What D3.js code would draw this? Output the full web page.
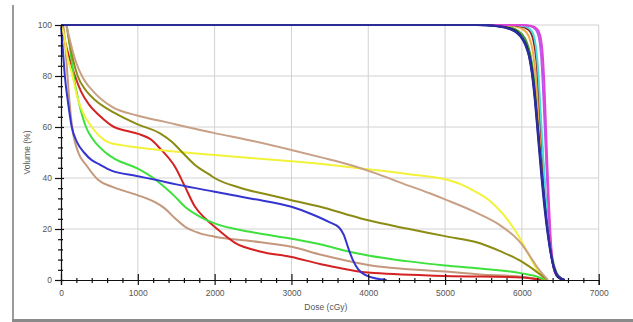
<!DOCTYPE html>
<html>
<head>
<meta charset="utf-8">
<script src="https://cdn.jsdelivr.net/npm/d3@7"></script>
<style>
  body { margin: 0; background: #fff; }
  svg { display: block; font-family: "Liberation Sans", Arial, sans-serif; }
</style>
</head>
<body>
<svg id="dvh" width="633" height="322"></svg>
<script>
// Axis ticks
const xTickValues = [0, 1000, 2000, 3000, 4000, 5000, 6000, 7000];
const yTickValues = [0, 20, 40, 60, 80, 100];
const xMinorStep = 200;
const yMinorStep = 4;

// Organ-at-risk curves: [dose (cGy), volume (%)]
const oarTanUpper = [[0,100],[60,100],[100,96],[150,90],[200,85],[290,79],[443,73.2],[660,68],[994,64.5],[1354,62],[2000,57.6],[2500,54.5],[3000,51],[3400,48],[3800,44.8],[4100,41.8],[4400,38.4],[4800,34],[5000,31.6],[5400,26.5],[5700,21.8],[5900,17.2],[6000,14],[6100,9.6],[6200,5],[6340,0]];
const oarOlive = [[0,100],[60,100],[110,93],[160,86],[217,80],[320,74.5],[443,70.6],[703,65.4],[1000,61],[1289,57.5],[1450,54],[1549,51],[1745,45.1],[1940,41.2],[2000,40],[2330,36.2],[2700,33.4],[3000,31.3],[3400,28.5],[3700,25.9],[4000,23.4],[4500,20.2],[5000,17.2],[5455,14.4],[5716,11.3],[6000,7.2],[6193,3.2],[6330,0]];
const oarRed = [[0,100],[40,95],[100,88],[182,80],[260,74],[360,69],[500,64.5],[690,60],[850,58.5],[1006,57.3],[1180,54.9],[1289,51.6],[1484,44.4],[1614,36.6],[1745,28.7],[1875,24.2],[2000,20.9],[2265,14.6],[2590,11.2],[3000,9],[3372,6.3],[4000,2.9],[5000,1.6],[6000,1],[6250,0]];
const oarYellow = [[0,100],[40,96],[80,88],[150,80],[210,72],[280,66],[400,60],[500,56.5],[620,54],[800,52.8],[1000,52],[1289,51],[2000,49],[3000,46.6],[3300,45.8],[4000,43.4],[4500,41.6],[5000,39.5],[5200,37.6],[5400,34.6],[5600,30.6],[5750,26],[5900,20],[6000,15],[6100,9.2],[6200,4],[6320,0]];
const oarGreen = [[0,100],[70,100],[100,95],[130,88],[165,80],[230,70],[325,60],[420,55],[560,50.5],[700,47.5],[994,43.8],[1224,39.5],[1289,37.9],[1484,32.7],[1614,28.7],[1810,24.8],[2000,22.2],[2460,18.9],[3000,16.2],[3400,13.8],[3700,11.5],[4000,9.6],[4500,7.4],[5000,5.7],[5455,4.5],[6000,2.6],[6200,1.3],[6310,0]];
const oarBlue = [[0,100],[20,92],[50,80],[90,70],[140,60],[210,54],[300,50],[400,47],[490,45.5],[650,43],[985,40.8],[1246,39.2],[1500,37.5],[2000,34.6],[2500,31.8],[3000,28.7],[3250,26],[3500,22.6],[3620,20.6],[3680,17.8],[3740,12.5],[3800,7.8],[3870,4.2],[3960,2],[4100,0.6],[4240,0]];
const oarTanLower = [[0,100],[30,100],[55,92],[80,82],[110,70],[145,60],[225,50],[330,45],[486,39.2],[660,36.6],[994,33.3],[1224,30.5],[1354,28],[1484,24.2],[1614,20.9],[1810,18.3],[2000,17],[2500,15.2],[3000,13],[3400,9.8],[4000,5.9],[5000,3.3],[5455,2.2],[6000,1.3],[6300,0]];

// Target volume curves: [dose (cGy), volume (%)]
const ptvGreen = [[0,100],[5550,100],[5750,99.5],[5900,98.5],[6000,96.4],[6060,93.5],[6110,88.5],[6150,81],[6190,70],[6230,56],[6268,42],[6310,28],[6352,17],[6400,8],[6450,3],[6505,0.8],[6555,0]];
const ptvOrange = [[0,100],[5700,100],[5900,99.5],[6020,98.2],[6090,95.5],[6140,90],[6180,80],[6215,67],[6250,52],[6288,37],[6330,23],[6378,11],[6430,3.5],[6490,0.8],[6545,0]];
const ptvDarkRed = [[0,100],[5800,100],[5980,99.5],[6090,98],[6150,94],[6190,86],[6222,73],[6252,58],[6285,42],[6320,27],[6360,15],[6405,6],[6460,1.5],[6545,0]];
const ptvCyan = [[0,100],[5850,100],[6030,99.5],[6130,97.5],[6180,92],[6212,82],[6240,68],[6270,52],[6302,36],[6340,21],[6382,10],[6430,3],[6485,0.6],[6545,0]];
const ptvViolet = [[0,100],[5950,100],[6100,99.6],[6180,98.2],[6225,94.5],[6255,86],[6278,73],[6300,58],[6322,43],[6346,28],[6372,15],[6405,6],[6455,1.5],[6545,0]];
const ptvMagenta = [[0,100],[6000,100],[6130,99.6],[6200,98.4],[6245,95],[6272,88],[6292,77],[6310,63],[6328,48],[6348,33],[6370,19],[6398,8],[6440,2.5],[6545,0]];
const ptvBlack = [[0,100],[5450,100],[5680,99.6],[5830,98.8],[5930,97.4],[6005,95],[6065,91.5],[6112,86],[6150,78],[6190,66],[6230,52],[6272,38],[6318,24],[6365,13],[6415,5],[6470,1.2],[6555,0]];
const ptvBlue = [[0,100],[5420,100],[5660,99.6],[5810,98.8],[5910,97.5],[5990,95.3],[6050,92],[6100,87],[6140,79.5],[6180,68],[6220,54],[6262,40],[6308,26],[6355,15],[6405,6.5],[6460,1.8],[6555,0]];
const ptvNavy = [[0,100],[5400,100],[5650,99.6],[5800,98.8],[5900,97.6],[5980,95.5],[6040,92.5],[6090,88],[6130,81],[6170,70],[6210,56],[6250,42],[6295,28],[6340,17],[6390,8],[6440,3],[6500,0.8],[6560,0]];

const curves = [
  { data: oarTanLower, color: "#c4987c" },
  { data: oarRed,      color: "#d42222" },
  { data: oarGreen,    color: "#3ee03e" },
  { data: oarBlue,     color: "#3434d0" },
  { data: oarYellow,   color: "#f2f23a" },
  { data: oarOlive,    color: "#8c8c14" },
  { data: oarTanUpper, color: "#c8a086" },
  { data: ptvGreen,    color: "#3c9c3c" },
  { data: ptvOrange,   color: "#f4aa48" },
  { data: ptvDarkRed,  color: "#8a2020" },
  { data: ptvCyan,     color: "#48dede" },
  { data: ptvViolet,   color: "#b458f0" },
  { data: ptvMagenta,  color: "#e044d4" },
  { data: ptvBlack,    color: "#101018" },
  { data: ptvBlue,     color: "#3a3ae6" },
  { data: ptvNavy,     color: "#2c2c98" }
];

const svg = d3.select("#dvh");
const plot = { left: 61, right: 598.7, top: 25, bottom: 280 };

const x = d3.scaleLinear().domain([0, 7000]).range([plot.left, plot.right]);
const y = d3.scaleLinear().domain([0, 100]).range([plot.bottom, plot.top]);

// Window frame
svg.append("line").attr("x1", 13).attr("x2", 13).attr("y1", 5).attr("y2", 322)
  .attr("stroke", "#9a9a9a").attr("stroke-width", 2);
svg.append("line").attr("x1", 12).attr("x2", 633).attr("y1", 320.5).attr("y2", 320.5)
  .attr("stroke", "#8a8a8a").attr("stroke-width", 3);

// Grid
const grid = svg.append("g").attr("stroke", "#d2d2d2").attr("stroke-width", 1);
grid.selectAll(".gx").data(xTickValues.slice(1)).join("line")
  .attr("x1", d => x(d)).attr("x2", d => x(d))
  .attr("y1", plot.top).attr("y2", plot.bottom);
grid.selectAll(".gy").data(yTickValues.slice(1)).join("line")
  .attr("x1", plot.left).attr("x2", plot.right)
  .attr("y1", d => y(d)).attr("y2", d => y(d));

// Curves
const line = d3.line().x(d => x(d[0])).y(d => y(d[1])).curve(d3.curveMonotoneX);
svg.append("g").selectAll("path").data(curves).join("path")
  .attr("d", d => line(d.data))
  .attr("fill", "none")
  .attr("stroke", d => d.color)
  .attr("stroke-width", 2)
  .attr("stroke-linejoin", "round");

// Axes
const xMinor = d3.range(0, 7001, xMinorStep).filter(v => v % 1000 !== 0);
const yMinor = d3.range(0, 101, yMinorStep).filter(v => v % 20 !== 0);

function styleAxis(g) {
  g.selectAll(".domain").attr("stroke", "#111").attr("stroke-width", 1.2);
  g.selectAll(".tick line").attr("stroke", "#111").attr("stroke-width", 1.2);
  g.selectAll(".tick text").attr("fill", "#555").attr("font-size", 8.5);
}

const xAxisG = svg.append("g").attr("transform", `translate(0,${plot.bottom})`);
xAxisG.call(d3.axisBottom(x).tickValues(xTickValues).tickSize(5).tickPadding(5).tickFormat(d3.format("d")))
  .call(styleAxis);
svg.append("g").attr("transform", `translate(0,${plot.bottom})`)
  .call(d3.axisTop(x).tickValues(xTickValues).tickSize(6).tickFormat(""))
  .call(g => g.select(".domain").remove()).call(styleAxis);
svg.append("g").attr("transform", `translate(0,${plot.bottom})`)
  .call(d3.axisBottom(x).tickValues(xMinor).tickSize(3).tickFormat(""))
  .call(g => g.select(".domain").remove()).call(styleAxis);
svg.append("g").attr("transform", `translate(0,${plot.bottom})`)
  .call(d3.axisTop(x).tickValues(xMinor).tickSize(2).tickFormat(""))
  .call(g => g.select(".domain").remove()).call(styleAxis);

const yAxisG = svg.append("g").attr("transform", `translate(${plot.left},0)`);
yAxisG.call(d3.axisLeft(y).tickValues(yTickValues).tickSize(6).tickPadding(3))
  .call(styleAxis);
svg.append("g").attr("transform", `translate(${plot.left},0)`)
  .call(d3.axisRight(y).tickValues(yTickValues).tickSize(3).tickFormat(""))
  .call(g => g.select(".domain").remove()).call(styleAxis);
svg.append("g").attr("transform", `translate(${plot.left},0)`)
  .call(d3.axisLeft(y).tickValues(yMinor).tickSize(3).tickFormat(""))
  .call(g => g.select(".domain").remove()).call(styleAxis);
svg.append("g").attr("transform", `translate(${plot.left},0)`)
  .call(d3.axisRight(y).tickValues(yMinor).tickSize(2).tickFormat(""))
  .call(g => g.select(".domain").remove()).call(styleAxis);

// Axis titles
svg.append("text")
  .attr("x", (plot.left + plot.right) / 2 - 4).attr("y", 310)
  .attr("text-anchor", "middle").attr("font-size", 8.5).attr("fill", "#555")
  .text("Dose (cGy)");
svg.append("text")
  .attr("transform", `translate(30,${(plot.top + plot.bottom) / 2}) rotate(-90)`)
  .attr("text-anchor", "middle").attr("font-size", 8.5).attr("fill", "#555")
  .text("Volume (%)");
</script>
</body>
</html>
